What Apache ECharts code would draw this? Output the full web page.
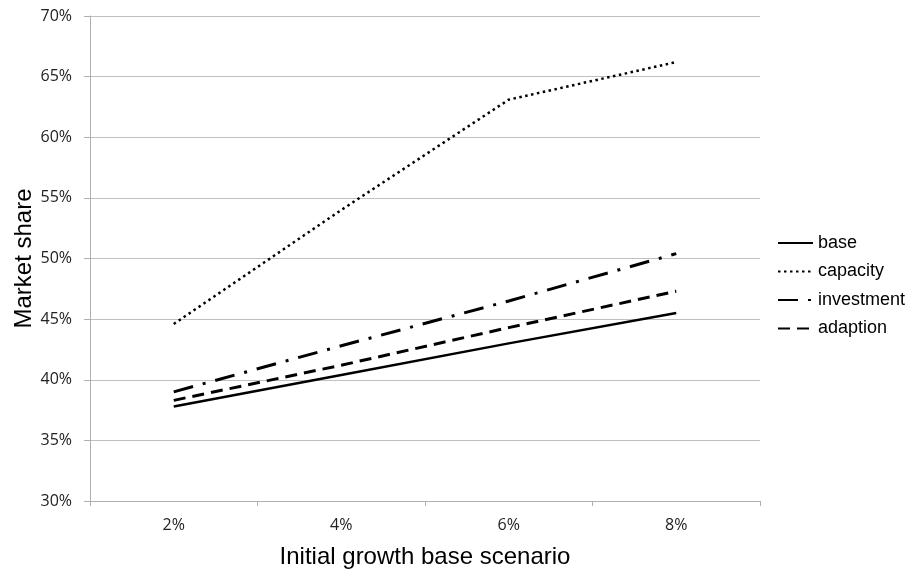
<!DOCTYPE html>
<html>
<head>
<meta charset="utf-8">
<script src="https://cdn.jsdelivr.net/npm/echarts@6/dist/echarts.min.js"></script>
<style>
html,body{margin:0;padding:0;background:#fff;}
#chart{width:906px;height:573px;}
</style>
</head>
<body>
<div id="chart"></div>
<script>
const categories = ['2%', '4%', '6%', '8%'];
const seriesNames = ['base', 'capacity', 'investment', 'adaption'];
const baseValues = [37.8, 40.4, 43.0, 45.5];
const capacityValues = [44.6, 54.0, 63.1, 66.2];
const investmentValues = [39.0, 42.8, 46.5, 50.4];
const adaptionValues = [38.3, 41.2, 44.3, 47.3];
const yTicks = { min: 30, max: 70, interval: 5 };

const chart = echarts.init(document.getElementById('chart'), null, { renderer: 'canvas' });

function lineSeries(name, data, width, type) {
  return {
    name: name,
    type: 'line',
    data: data,
    symbol: 'none',
    smooth: false,
    silent: true,
    lineStyle: { color: '#000', width: width, type: type },
    itemStyle: { color: '#000' }
  };
}

const option = {
  backgroundColor: '#fff',
  animation: false,
  grid: { left: 90, right: 146, top: 16, bottom: 72, containLabel: false, outerBoundsMode: 'none' },
  legend: {
    orient: 'vertical',
    left: 772,
    top: 229,
    itemWidth: 35,
    itemHeight: 14,
    itemGap: 10.5,
    itemStyle: { opacity: 0 },
    textStyle: { fontFamily: 'Liberation Sans', fontSize: 18, color: '#000', lineHeight: 18 },
    data: seriesNames
  },
  xAxis: {
    type: 'category',
    data: categories,
    boundaryGap: true,
    name: 'Initial growth base scenario',
    nameLocation: 'middle',
    nameGap: 44,
    nameMoveOverlap: false,
    nameTextStyle: { fontFamily: 'Liberation Sans', fontSize: 24, color: '#000' },
    axisLine: { show: true, lineStyle: { color: '#b0b0b0', width: 1 } },
    axisTick: { show: true, length: 5, alignWithLabel: false, lineStyle: { color: '#b0b0b0' } },
    axisLabel: { fontFamily: 'Open Sans', fontSize: 16, color: '#222', margin: 16 },
    splitLine: { show: false }
  },
  yAxis: {
    type: 'value',
    min: yTicks.min,
    max: yTicks.max,
    interval: yTicks.interval,
    name: 'Market share',
    nameLocation: 'middle',
    nameGap: 54,
    nameRotate: 90,
    nameMoveOverlap: false,
    nameTextStyle: { fontFamily: 'Liberation Sans', fontSize: 24, color: '#000' },
    axisLine: { show: true, lineStyle: { color: '#b0b0b0', width: 1 } },
    axisTick: { show: true, length: 6, lineStyle: { color: '#b0b0b0' } },
    axisLabel: { fontFamily: 'Open Sans', fontSize: 16, color: '#222', margin: 18, formatter: '{value}%' },
    splitLine: { show: true, lineStyle: { color: '#c0c0c0', width: 1 } }
  },
  series: [
    lineSeries('base', baseValues, 2.5, 'solid'),
    lineSeries('capacity', capacityValues, 2.5, [2.5, 3.5]),
    lineSeries('investment', investmentValues, 3, [20, 10, 3, 10]),
    lineSeries('adaption', adaptionValues, 3, [12, 7])
  ]
};
chart.setOption(option);
</script>
</body>
</html>
